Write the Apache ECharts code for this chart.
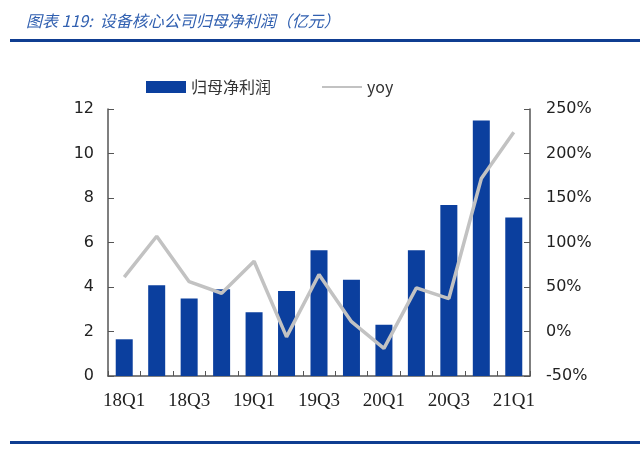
<!DOCTYPE html>
<html>
<head>
<meta charset="utf-8">
<script src="https://cdn.jsdelivr.net/npm/echarts@6/dist/echarts.min.js"></script>
<style>
  html, body { margin: 0; padding: 0; background: #fff; }
  #main { width: 640px; height: 450px; }
</style>
</head>
<body>
<div id="main"></div>
<script>
// quarters on the x axis
let quarters = ["18Q1", "18Q2", "18Q3", "18Q4", "19Q1", "19Q2", "19Q3", "19Q4", "20Q1", "20Q2", "20Q3", "20Q4", "21Q1"];
// 归母净利润 (亿元)
let profit = [1.65, 4.08, 3.48, 3.9, 2.87, 3.82, 5.65, 4.33, 2.3, 5.65, 7.68, 11.48, 7.12];
// yoy (%)
let yoy = [61, 107, 56, 43, 79, -6, 64, 11, -19, 49, 37, 172, 224];

let myChart = echarts.init(document.getElementById("main"));

const axisColor = "#555";

myChart.setOption({
  backgroundColor: "#fff",
  animation: false,
  title: {
    text: "图表 119:  设备核心公司归母净利润（亿元）",
    left: 21,
    top: 8,
    textStyle: {
      fontFamily: "Noto Sans CJK SC",
      fontStyle: "italic",
      fontWeight: "normal",
      fontSize: 16,
      color: "#3160b0",
    },
  },
  // blue rules at top and bottom
  graphic: [
    {
      type: "rect",
      shape: { x: 10, y: 39, width: 630, height: 3 },
      style: { fill: "#0f3d91" },
    },
    {
      type: "rect",
      shape: { x: 10, y: 441, width: 630, height: 3 },
      style: { fill: "#0f3d91" },
    },
  ],
  legend: {
    left: 141,
    top: 74,
    itemWidth: 40,
    itemHeight: 12,
    itemGap: 50,
    textStyle: { fontSize: 16, color: "#333", fontFamily: "Noto Sans CJK SC" },
    data: [
      { name: "归母净利润", icon: "rect" },
      { name: "yoy", itemStyle: { opacity: 0 } },
    ],
  },
  grid: { left: 108, right: 110, top: 109, bottom: 74 },
  xAxis: {
    type: "category",
    data: quarters,
    boundaryGap: true,
    axisLine: { lineStyle: { color: axisColor, width: 1.5 } },
    axisTick: { show: true, inside: true, length: 5, interval: 0, lineStyle: { color: axisColor } },
    axisLabel: {
      interval: 1,
      margin: 16,
      fontSize: 19,
      color: "#222",
      fontFamily: "Liberation Serif",
    },
  },
  yAxis: [
    {
      type: "value",
      min: 0,
      max: 12,
      interval: 2,
      splitLine: { show: false },
      axisLine: { show: true, lineStyle: { color: axisColor, width: 1.5 } },
      axisTick: { show: true, inside: true, length: 6, lineStyle: { color: axisColor } },
      axisLabel: { fontSize: 16, color: "#222", margin: 14, fontFamily: "DejaVu Sans" },
    },
    {
      type: "value",
      min: -50,
      max: 250,
      interval: 50,
      splitLine: { show: false },
      axisLine: { show: true, lineStyle: { color: axisColor, width: 1.5 } },
      axisTick: { show: true, inside: true, length: 6, lineStyle: { color: axisColor } },
      axisLabel: { fontSize: 16, color: "#222", margin: 16, fontFamily: "DejaVu Sans", formatter: "{value}%" },
    },
  ],
  series: [
    {
      name: "归母净利润",
      type: "bar",
      data: profit,
      barWidth: 17,
      itemStyle: { color: "#0b3f9e" },
    },
    {
      name: "yoy",
      type: "line",
      yAxisIndex: 1,
      data: yoy,
      symbol: "none",
      lineStyle: { color: "#c2c2c2", width: 3.5 },
      itemStyle: { color: "#c2c2c2" },
    },
  ],
});
</script>
</body>
</html>
